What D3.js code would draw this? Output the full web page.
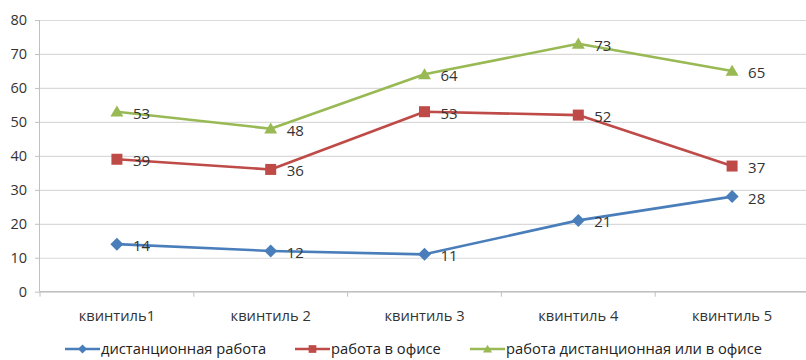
<!DOCTYPE html>
<html>
<head>
<meta charset="utf-8">
<script src="https://cdn.jsdelivr.net/npm/d3@7"></script>
<style>
  html, body { margin: 0; padding: 0; background: #fff; }
  svg text { font-family: "Open Sans", "Liberation Sans", sans-serif; }
</style>
</head>
<body>
<svg id="chart" width="806" height="360"></svg>
<script>
// Quintile categories and the three series (percent)
const categories = ["квинтиль1", "квинтиль 2", "квинтиль 3", "квинтиль 4", "квинтиль 5"];
const remoteWork = [14, 12, 11, 21, 28];
const officeWork = [39, 36, 53, 52, 37];
const remoteOrOffice = [53, 48, 64, 73, 65];
const yTicks = [0, 10, 20, 30, 40, 50, 60, 70, 80];
const seriesNames = ["дистанционная работа", "работа в офисе", "работа дистанционная или в офисе"];

// Marker shapes sized by their half-width r (size argument passed to d3.symbol)
const wideDiamond = {
  draw(ctx, r) { ctx.moveTo(0, -r); ctx.lineTo(r, 0); ctx.lineTo(0, r); ctx.lineTo(-r, 0); ctx.closePath(); }
};
const box = {
  draw(ctx, r) { ctx.rect(-r, -r, 2 * r, 2 * r); }
};
const flatTriangle = {
  draw(ctx, r) { ctx.moveTo(0, -r * 0.95); ctx.lineTo(r, r * 0.75); ctx.lineTo(-r, r * 0.75); ctx.closePath(); }
};

const series = [
  { name: seriesNames[0], values: remoteWork, color: "#4a7ebb", symbol: wideDiamond, r: 6.5 },
  { name: seriesNames[1], values: officeWork, color: "#be4b48", symbol: box, r: 5.5 },
  { name: seriesNames[2], values: remoteOrOffice, color: "#98b954", symbol: flatTriangle, r: 6.5 }
];

const svg = d3.select("#chart");
const plotLeft = 40, plotRight = 809, plotTop = 20, plotBottom = 291.7;

const x = d3.scalePoint().domain(categories).range([plotLeft, plotRight]).padding(0.5);
const y = d3.scaleLinear().domain([0, 80]).range([plotBottom, plotTop]);

// horizontal gridlines
svg.append("g")
  .attr("transform", `translate(${plotLeft},0)`)
  .call(d3.axisLeft(y).tickValues(yTicks).tickSize(-(plotRight - plotLeft)).tickFormat(""))
  .call(g => g.select(".domain").remove())
  .call(g => g.selectAll("line").attr("stroke", "#d9d9d9").attr("stroke-width", 1.2));

// y axis
svg.append("g")
  .attr("transform", `translate(${plotLeft},0)`)
  .call(d3.axisLeft(y).tickValues(yTicks).tickSize(5).tickPadding(8))
  .call(g => g.select(".domain").attr("stroke", "#c0c0c0").attr("d", `M-0.5,${plotTop}V${plotBottom}`))
  .call(g => g.selectAll(".tick line").attr("stroke", "#c0c0c0"))
  .call(g => g.selectAll("text").attr("font-size", 14.5).attr("fill", "#333"));

// x axis with ticks at category boundaries
const step = x.step();
const boundaries = categories.map(c => x(c) - step / 2);
const xAxis = svg.append("g").attr("transform", `translate(0,${plotBottom})`);
xAxis.append("line")
  .attr("x1", plotLeft).attr("x2", 806).attr("y1", 0).attr("y2", 0)
  .attr("stroke", "#c0c0c0").attr("stroke-width", 1.2);
xAxis.selectAll("line.tk").data(boundaries).join("line")
  .attr("class", "tk")
  .attr("x1", d => d).attr("x2", d => d).attr("y1", 0).attr("y2", 5)
  .attr("stroke", "#c0c0c0");
xAxis.selectAll("text").data(categories).join("text")
  .attr("x", d => x(d)).attr("y", 29)
  .attr("text-anchor", "middle")
  .attr("font-size", 14.7).attr("fill", "#333")
  .text(d => d);

// series lines, markers and value labels
const line = d3.line().x((d, i) => x(categories[i])).y(d => y(d));
series.forEach(s => {
  const g = svg.append("g");
  g.append("path").datum(s.values)
    .attr("d", line).attr("fill", "none")
    .attr("stroke", s.color).attr("stroke-width", 2.6).attr("stroke-linejoin", "round");
  g.selectAll("path.m").data(s.values).join("path")
    .attr("class", "m")
    .attr("transform", (d, i) => `translate(${x(categories[i])},${y(d)})`)
    .attr("d", d3.symbol(s.symbol, s.r)).attr("fill", s.color);
  g.selectAll("text").data(s.values).join("text")
    .attr("x", (d, i) => x(categories[i]) + 16)
    .attr("y", d => y(d) + 7)
    .attr("font-size", 15).attr("fill", "#333")
    .text(d => d);
});

// legend
const legendItems = [
  { s: series[0], x: 65 },
  { s: series[1], x: 295 },
  { s: series[2], x: 470 }
];
const lg = svg.append("g").attr("transform", "translate(0,349)");
legendItems.forEach(it => {
  const g = lg.append("g").attr("transform", `translate(${it.x},0)`);
  g.append("line").attr("x1", 0).attr("x2", 35).attr("y1", 0).attr("y2", 0)
    .attr("stroke", it.s.color).attr("stroke-width", 2.6);
  g.append("path").attr("transform", "translate(17.5,0)")
    .attr("d", d3.symbol(it.s.symbol, it.s.r * 0.7)).attr("fill", it.s.color);
  g.append("text").attr("x", 36).attr("y", 5)
    .attr("font-size", 14.7).attr("fill", "#222")
    .text(it.s.name);
});
</script>
</body>
</html>
